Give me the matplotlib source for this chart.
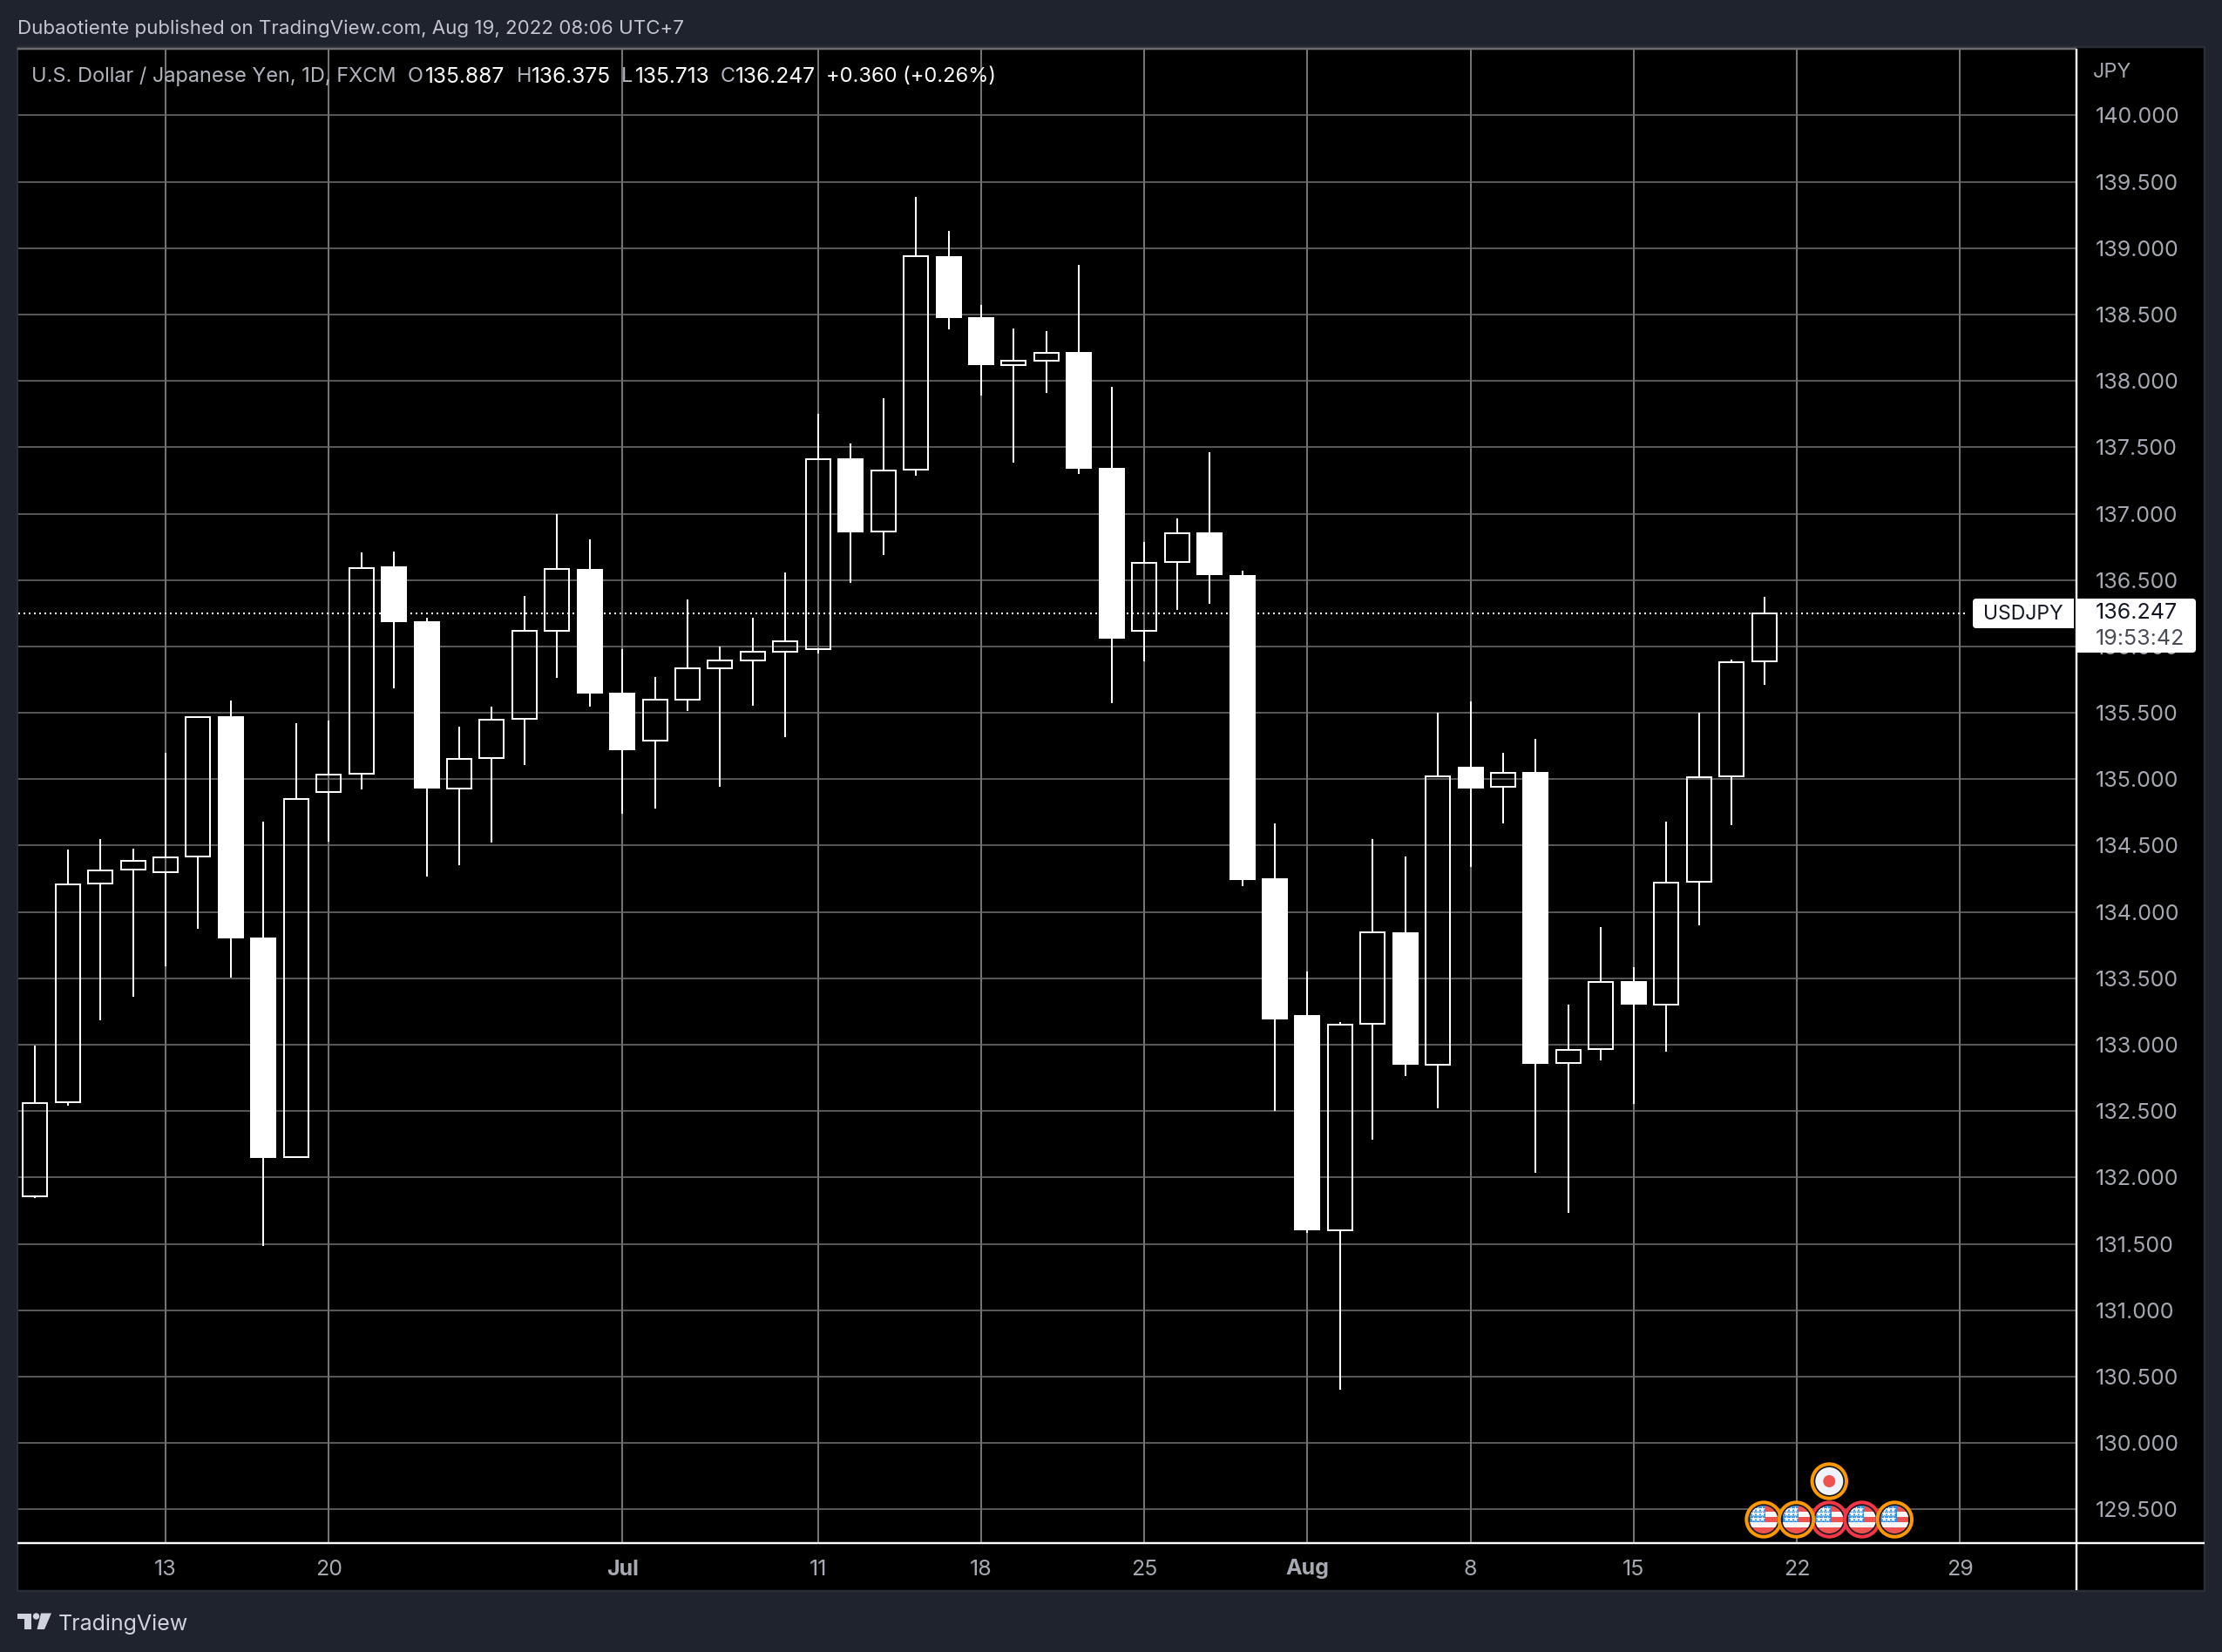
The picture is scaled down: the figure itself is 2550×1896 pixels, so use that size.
import matplotlib
matplotlib.use("Agg")
import matplotlib.pyplot as plt
import numpy as np
from matplotlib.patches import Rectangle, Circle, FancyBboxPatch, Polygon

# ---- data ----
opens = [131.861,132.565,134.215,134.318,134.297,134.418,135.476,133.806,132.156,134.902,
         135.040,136.600,136.191,134.932,135.160,135.455,136.118,136.586,135.654,135.291,
         135.600,135.834,135.893,135.958,135.980,137.417,136.865,137.331,138.942,138.481,
         138.122,138.151,138.218,137.344,136.119,136.637,136.859,136.535,134.253,133.226,
         131.605,133.156,133.850,132.852,135.091,134.940,135.055,132.865,132.970,133.479,
         133.305,134.226,135.020,135.887]
highs = [132.995,134.472,134.552,134.479,135.198,135.469,135.593,134.679,135.421,135.442,
         136.706,136.716,136.218,135.396,135.547,136.381,136.998,136.807,135.982,135.770,
         136.354,136.000,136.217,136.558,137.749,137.527,137.870,139.385,139.130,138.572,
         138.393,138.374,138.873,137.953,136.784,136.961,137.460,136.572,134.665,133.554,
         133.170,134.548,134.421,135.499,135.583,135.197,135.303,133.302,133.888,133.587,
         134.682,135.498,135.898,136.375]
lows = [131.844,132.541,133.184,133.363,133.589,133.871,133.503,131.486,132.156,134.527,
        134.923,135.686,134.266,134.350,134.521,135.105,135.761,135.545,134.737,134.777,
        135.512,134.943,135.551,135.319,135.950,136.476,136.690,137.288,138.385,137.891,
        137.382,137.907,137.296,135.575,135.889,136.272,136.323,134.192,132.500,131.580,
        130.400,132.284,132.762,132.519,134.342,134.670,132.033,131.733,132.880,132.555,
        132.949,133.900,134.651,135.713]
closes = [132.558,134.208,134.311,134.383,134.411,135.469,133.799,132.150,134.850,135.036,
          136.593,136.184,134.930,135.155,135.451,136.116,136.582,135.648,135.221,135.597,
          135.834,135.893,135.958,136.037,137.412,136.859,137.326,138.937,138.476,138.119,
          138.149,138.213,137.339,136.058,136.631,136.854,136.535,134.243,133.189,131.600,
          133.151,133.845,132.847,135.021,134.932,135.048,132.859,132.964,133.473,133.299,
          134.220,135.017,135.883,136.247]
price_ticks = [129.5,130.0,130.5,131.0,131.5,132.0,132.5,133.0,133.5,134.0,134.5,135.0,
               135.5,136.0,136.5,137.0,137.5,138.0,138.5,139.0,139.5,140.0]
date_ticks = [4,9,18,24,29,34,39,44,49,54,59]
date_labels = ["13","20","Jul","11","18","25","Aug","8","15","22","29"]
bold_labels = ["Jul","Aug"]
last_price = 136.247

W, H = 2550, 1896
BG = "#1f232e"
GRID = "#6c6c70"
VGRID = "#747478"
TICK = "#a6a9b2"
FONT = "Inter"
px = 0.72  # one pixel in points at dpi=100

plt.rcParams['font.family'] = [FONT, 'DejaVu Sans']
fig = plt.figure(figsize=(W/100, H/100), dpi=100, facecolor=BG)

def frac(l, t, r, b):
    return [l/W, 1-b/H, (r-l)/W, (b-t)/H]

# backdrop: black panel incl. both scales
bg = fig.add_axes([0,0,1,1], zorder=0)
bg.set_xlim(0,W); bg.set_ylim(H,0); bg.axis("off")
bg.add_patch(Rectangle((20,54),2509.5,1771.5,facecolor="#000000",edgecolor="#2a2e39",lw=2.5*px))

# main chart
L,T,R,B = 20.5,56,2382,1770.5
ax = fig.add_axes(frac(L,T,R,B), zorder=1, facecolor="#000000")
STEP = 37.44
ANCHOR = 132.4   # pixel row of the 140.000 level
X4 = 190.0       # pixel column of bar index 4
ax.set_xlim(4+(L-X4)/STEP, 4+(R-X4)/STEP)
ax.set_ylim(140-(B-ANCHOR)/152.38, 140+(ANCHOR-T)/152.38)
for s in ["left","right","bottom"]:
    ax.spines[s].set_visible(False)
ax.spines["top"].set_color(GRID); ax.spines["top"].set_linewidth(2.5*px)
ax.set_axisbelow(True)
ax.yaxis.tick_right()
ax.set_yticks(price_ticks)
ax.set_yticklabels([f"{p:.3f}" for p in price_ticks])
ax.set_xticks(date_ticks)
ax.set_xticklabels(date_labels)
ax.tick_params(axis="y", length=0, pad=22.5*px, labelsize=25*px, labelcolor=TICK)
ax.tick_params(axis="x", length=0, pad=19*px, labelsize=25*px, labelcolor=TICK)
for lab in ax.get_xticklabels():
    if lab.get_text() in bold_labels:
        lab.set_fontweight("bold")
ax.grid(True, axis="y", color=GRID, lw=1.6*px)
ax.grid(True, axis="x", color=VGRID, lw=2*px)

x = np.arange(len(opens))
o,h,l,c = map(np.array,(opens,highs,lows,closes))
top = np.maximum(o,c); bot = np.minimum(o,c)
up = c>o
ax.hlines(last_price, ax.get_xlim()[0], 4+(2258-X4)/STEP, color="white", lw=2*px,
          linestyle=(0,(1,2)), zorder=2)
ax.vlines(x, top, h, color="white", lw=2*px, zorder=3)
ax.vlines(x, l, bot, color="white", lw=2*px, zorder=3)
ax.bar(x[up], (top-bot)[up], bottom=bot[up], width=28/STEP, facecolor="none",
       edgecolor="white", linewidth=2*px, zorder=4)
ax.bar(x[~up], (top-bot)[~up], bottom=bot[~up], width=30/STEP, facecolor="white",
       edgecolor="none", zorder=4)

# overlay in pixels
ov = fig.add_axes([0,0,1,1], zorder=10)
ov.set_xlim(0,W); ov.set_ylim(H,0); ov.axis("off"); ov.patch.set_alpha(0)

ov.plot([2382.5,2382.5],[56,1825],color="white",lw=2.4*px,solid_capstyle="butt")
ov.plot([20,2530],[1771,1771],color="white",lw=2.4*px,solid_capstyle="butt")

def t(xx,yy,s,color,size,**kw):
    kw.setdefault("va","center")
    return ov.text(xx,yy,s,color=color,fontsize=size*px,**kw)

# header
t(20,33,"Dubaotiente published on TradingView.com, Aug 19, 2022 08:06 UTC+7","#c3c6d0",22.3)
t(2402,83,"JPY",TICK,23.5)
# legend
LG="#b2b5be"
YL=88
t(36,YL,"U.S. Dollar / Japanese Yen, 1D, FXCM",LG,23.5)
for xl,lab,xv,val in [(468,"O",488,"135.887"),(593,"H",610,"136.375"),(713,"L",729,"135.713"),(827,"C",844,"136.247")]:
    t(xl,YL,lab,LG,23.5); t(xv,YL,val,"white",24.6)
t(948,YL,"+0.360 (+0.26%)","white",23.7)

# price tags
ov.add_patch(FancyBboxPatch((2264,687),116,34,boxstyle="round,pad=0,rounding_size=4",fc="white",ec="none"))
ov.add_patch(Rectangle((2370,687),10,34,fc="white",ec="none"))
ov.add_patch(FancyBboxPatch((2384,687),136,62,boxstyle="round,pad=0,rounding_size=4",fc="white",ec="none"))
ov.add_patch(Rectangle((2384,687),10,62,fc="white",ec="none"))
t(2322,705,"USDJPY","#131722",23,ha="center")
t(2405,704,"136.247","#131722",25)
t(2405,733,"19:53:42","#4a4d55",25)

# logo
LOGO="#d1d4dc"
ov.add_patch(Polygon([(20,1851.5),(36,1851.5),(36,1870),(27.5,1870),(27.5,1857.5),(20,1857.5)],fc=LOGO,ec="none"))
ov.add_patch(Circle((41.5,1855),3.7,fc=LOGO,ec="none"))
ov.add_patch(Polygon([(47,1851.5),(59,1851.5),(51,1870),(42.5,1870)],fc=LOGO,ec="none"))
t(67,1864,"TradingView",LOGO,25)

# event icons
def ring(cx,cy,col):
    ov.add_patch(Circle((cx,cy),19.7,fc="#131722",ec=col,lw=4*px,zorder=3))

def us_flag(cx,cy,col):
    ring(cx,cy,col)
    r=16
    clip=Circle((cx,cy),r,transform=ov.transData)
    items=[Rectangle((cx-r,cy-r),2*r,2*r,fc="#ef5350",ec="none",zorder=4),
           Rectangle((cx-r,cy-9),2*r,5.7,fc="#f7f7fa",ec="none",zorder=4),
           Rectangle((cx-r,cy+3.3),2*r,5.4,fc="#f7f7fa",ec="none",zorder=4),
           Rectangle((cx-r,cy-r),r+2.3,r+3.3,fc="#2f8fe6",ec="none",zorder=5)]
    for it in items:
        ov.add_patch(it); it.set_clip_path(clip)
    xs=[cx-12,cx-7,cx-2]
    ys=[cy-12,cy-6.7,cy-1.3]
    for yy in ys:
        sc=ov.scatter(xs,[yy]*3,marker="*",s=30,c="white",linewidths=0,zorder=6)
        sc.set_clip_path(clip)

icon_x=[2024,2061.5,2099.3,2136.8,2174.3]
icon_c=["#ff9800","#ff9800","#f23645","#f23645","#ff9800"]
for i in [2,3,0,1,4]:
    us_flag(icon_x[i],1744,icon_c[i])
ring(2099.3,1700,"#ff9800")
ov.add_patch(Circle((2099.3,1700),16,fc="#f0f3fa",ec="none",zorder=4))
ov.add_patch(Circle((2099.3,1700),7,fc="#ef5350",ec="none",zorder=5))

fig.savefig("out.png", dpi=100, facecolor=BG)
